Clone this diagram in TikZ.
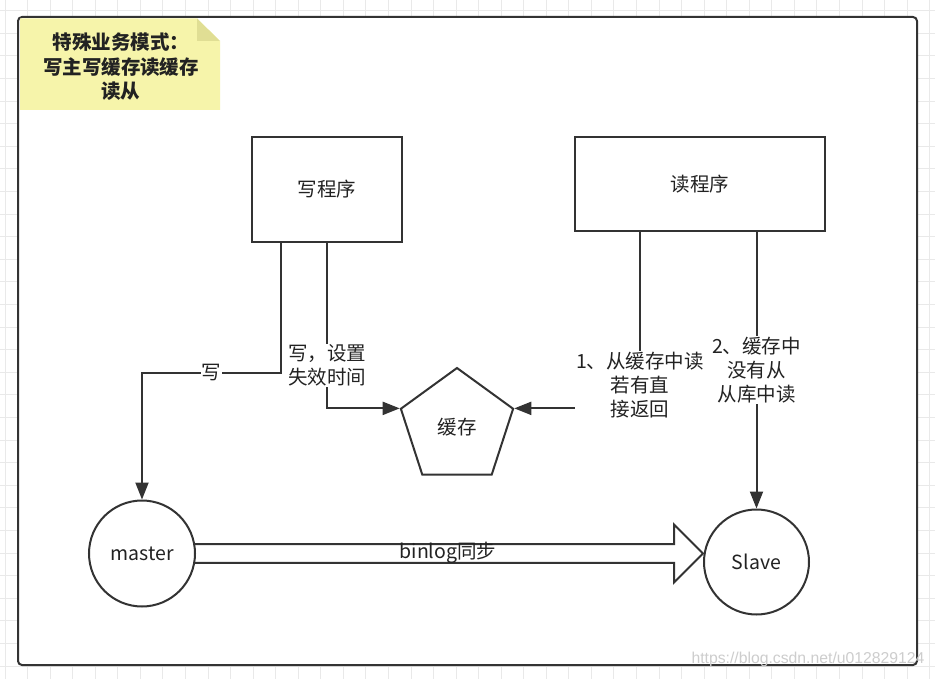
\documentclass[tikz,border=0pt]{standalone}
\usepackage{fontspec}
\setmainfont{Noto Sans CJK SC}
\newfontfamily\wmfont{Liberation Sans}
\usetikzlibrary{arrows.meta,shapes.geometric,calc}
\definecolor{ln}{RGB}{51,51,51}
\definecolor{txt}{RGB}{34,34,34}
\definecolor{notec}{RGB}{246,244,170}
\definecolor{foldc}{RGB}{224,222,148}
\definecolor{gridc}{RGB}{233,233,233}
\definecolor{wmc}{RGB}{205,205,205}
\newcommand\lblfont{\fontsize{19.5}{24}\selectfont}
\tikzset{
  gridline/.style={draw=gridc, line width=0.8pt},
  frameline/.style={draw=ln, line width=2pt, fill=white, rounded corners=4pt},
  stepbox/.style={draw=ln, line width=2pt, fill=white, inner sep=0pt, text=txt, font=\lblfont},
  dbnode/.style={circle, draw=ln, line width=2pt, fill=white, inner sep=0pt, text=txt, font=\lblfont},
  cachenode/.style={regular polygon, regular polygon sides=5, draw=ln, line width=2pt, fill=white, inner sep=0pt, minimum size=118pt, text=txt, font=\lblfont},
  lab/.style={fill=white, inner sep=1pt, align=center, text=txt, font=\lblfont},
  conn/.style={draw=ln, line width=2pt, -{Triangle[length=17pt,width=13pt]}},
  bigarrow/.style={draw=ln, line width=2pt, line join=miter},
  notetext/.style={align=center, text=txt, font=\bfseries\fontsize{19.5}{24.5}\selectfont},
}
\begin{document}
\begin{tikzpicture}[x=1pt,y=-1pt]
\useasboundingbox (0,0) rectangle (935,679);
% background grid
\foreach \i in {0,...,41} \draw[gridline] ({5+22.55*\i},0) -- ({5+22.55*\i},679);
\foreach \j in {0,...,29} \draw[gridline] (0,{10.6+22.6*\j}) -- (935,{10.6+22.6*\j});
% frame
\draw[frameline] (18,17) rectangle (917,665);
% note
\fill[notec] (20,18.5) -- (197,18.5) -- (220,41) -- (220,110) -- (20,110) -- cycle;
\fill[foldc] (197,18.5) -- (197,41) -- (220,41) -- cycle;
\node[notetext] (title) at (121,67) {特殊业务模式：\\写主写缓存读缓存\\读从};
% nodes
\node[stepbox, minimum width=150pt, minimum height=105pt] (write) at (327,189.5) {写程序};
\node[stepbox, minimum width=250pt, minimum height=94pt] (read) at (700,184) {读程序};
\node[cachenode] (cache) at (457,427) {缓存};
\node[dbnode, minimum size=106pt] (master) at (142,553.5) {master};
\node[dbnode, minimum size=105pt] (slave) at (756.5,562) {Slave};
% connectors
\draw[conn] ([xshift=-46pt]write.south) -- ++(0,130) -| node[lab,pos=0.25] {写} (master.north);
\draw[conn] (write.south) |- node[lab,pos=0.37] {写，设置\\失效时间} (cache.corner 2);
\draw[conn] ([xshift=-60pt]read.south) |- node[lab,pos=0.433] {1、从缓存中读\\若有直\\接返回} (cache.corner 5);
\draw[conn] (read.south -| slave.north) -- node[lab] {2、缓存中\\没有从\\从库中读} (slave.north);
% big hollow arrow
\coordinate (tip) at (slave.west |- master.east);
\coordinate (hb) at ($(tip)+(-29,0)$);
\draw[bigarrow] (master.10.9) -- (master.10.9 -| hb) -- ($(hb)+(0,-29)$) -- (tip) -- ($(hb)+(0,29)$) -- (master.-10.9 -| hb) -- (master.-10.9);
\node[text=txt, font=\lblfont, inner sep=0pt] (binlog) at (448,553) {binlog同步};
% watermark
\node[text=wmc, font=\wmfont\fontsize{15.75}{18}\selectfont, inner sep=0pt] (wmark) at (808,659) {https://blog.csdn.net/u012829124};
\end{tikzpicture}
\end{document}
